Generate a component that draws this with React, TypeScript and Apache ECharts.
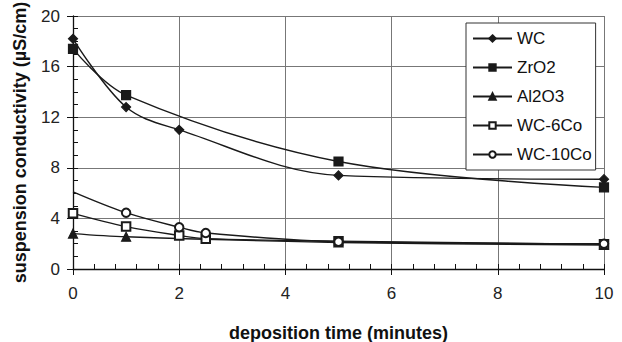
import React, { useEffect, useRef } from "react";
import * as echarts from "echarts";

const seriesNames = ["WC", "ZrO2", "Al2O3", "WC-6Co", "WC-10Co"];
const symbols = ["diamond", "rect", "triangle", "emptyRect", "emptyCircle"];
const symbolSizes = [9, 9, 9, 8.5, 8.5];

const wcX = [0, 1, 2, 5, 10];
const wcY = [18.2, 12.8, 11.0, 7.4, 7.1];
const zrX = [0, 1, 5, 10];
const zrY = [17.4, 13.75, 8.5, 6.45];
const alX = [0, 1, 5, 10];
const alY = [2.8, 2.55, 2.1, 1.9];
const co6X = [0, 1, 2, 2.5, 5, 10];
const co6Y = [4.4, 3.35, 2.65, 2.4, 2.2, 1.95];
const co10X = [0, 1, 2, 2.5, 5, 10];
const co10Y = [6.1, 4.45, 3.3, 2.85, 2.15, 2.0];
const hiddenMarker = [true, false, false, false, false, false]; // WC-10Co first point drawn without marker

const xTicks = [0, 2, 4, 6, 8, 10];
const yTicks = [0, 4, 8, 12, 16, 20];

export default function App() {
  const ref = useRef<HTMLDivElement>(null);
  useEffect(() => {
    const chart = echarts.init(ref.current!, null, { renderer: "svg" });
    const font = "'Liberation Sans', Arial, sans-serif";
    const xs = [wcX, zrX, alX, co6X, co10X];
    const ys = [wcY, zrY, alY, co6Y, co10Y];
    const series = seriesNames.map((name, i) => ({
      name,
      type: "line",
      smooth: 0.35,
      xAxisIndex: 0,
      yAxisIndex: 0,
      symbol: symbols[i],
      symbolSize: symbolSizes[i],
      showAllSymbol: true,
      lineStyle: { color: "#1a1a1a", width: 1.4 },
      itemStyle: { color: "#1a1a1a", borderColor: "#1a1a1a", borderWidth: 1.2 },
      data: xs[i].map((x, j) =>
        i === 4 && hiddenMarker[j]
          ? { value: [x, ys[i][j]], symbol: "none" }
          : [x, ys[i][j]]
      ),
    }));
    chart.setOption({
      animation: false,
      textStyle: { fontFamily: font },
      grid: { left: 73, right: 18, top: 16, bottom: 73, containLabel: false, outerBoundsMode: "none" },
      legend: {
        orient: "vertical",
        left: 466,
        top: 23,
        itemWidth: 39,
        itemHeight: 8,
        itemGap: 12,
        padding: [7, 4, 7, 6],
        borderColor: "#333",
        borderWidth: 1,
        backgroundColor: "#fff",
        textStyle: { fontSize: 17, lineHeight: 17, color: "#111", fontFamily: font },
        data: seriesNames,
      },
      xAxis: [
        {
          type: "value",
          min: 0,
          max: 10,
          interval: 2,
          name: "deposition time (minutes)",
          nameLocation: "middle",
          nameGap: 55,
          nameTextStyle: { fontSize: 18, fontWeight: "bold", color: "#111", fontFamily: font },
          axisLine: { show: true, lineStyle: { color: "#111", width: 1.3 } },
          axisTick: { show: true, length: 6, lineStyle: { color: "#111" } },
          axisLabel: {
            fontSize: 17,
            color: "#222",
            margin: 16,
            formatter: (v: number) => (xTicks.includes(v) ? String(v) : ""),
          },
          splitLine: { show: true, lineStyle: { color: "#777", width: 1 } },
        },
        {
          type: "value",
          min: 0,
          max: 10,
          interval: 0.4,
          position: "bottom",
          axisLine: { show: false },
          axisTick: { show: true, inside: true, length: 5, lineStyle: { color: "#111" } },
          axisLabel: { show: false },
          splitLine: { show: false },
        },
      ],
      yAxis: [
        {
          type: "value",
          min: 0,
          max: 20,
          interval: 4,
          name: "suspension conductivity (µS/cm)",
          nameLocation: "middle",
          nameGap: 44,
          nameTextStyle: { fontSize: 18, fontWeight: "bold", color: "#111", fontFamily: font },
          axisLine: { show: true, lineStyle: { color: "#111", width: 1.3 } },
          axisTick: { show: true, length: 6, lineStyle: { color: "#111" } },
          axisLabel: {
            fontSize: 17,
            color: "#222",
            margin: 13,
            formatter: (v: number) => (yTicks.includes(v) ? String(v) : ""),
          },
          splitLine: { show: true, lineStyle: { color: "#777", width: 1 } },
        },
        {
          type: "value",
          min: 0,
          max: 20,
          interval: 1,
          position: "left",
          axisLine: { show: false },
          axisTick: { show: true, inside: true, length: 5, lineStyle: { color: "#111" } },
          axisLabel: { show: false },
          splitLine: { show: false },
        },
      ],
      series,
    });
    return () => chart.dispose();
  }, []);
  return <div ref={ref} style={{ width: 622, height: 342, position: "absolute", left: 0, top: 0, background: "#fff" }} />;
}
